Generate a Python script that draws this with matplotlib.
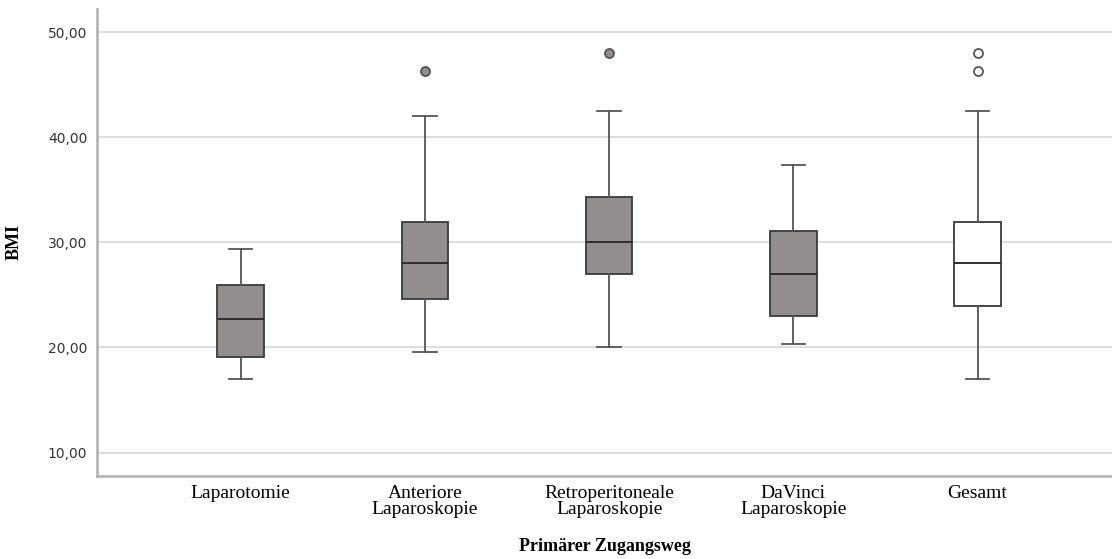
import matplotlib
matplotlib.use("Agg")
import matplotlib.pyplot as plt
from matplotlib.ticker import FuncFormatter

groups = ["Laparotomie", "Anteriore\nLaparoskopie", "Retroperitoneale\nLaparoskopie",
          "DaVinci\nLaparoskopie", "Gesamt"]
whis_low = [17.0, 19.6, 20.0, 20.3, 17.0]
q1 = [19.05, 24.6, 27.0, 23.0, 23.9]
median = [22.7, 28.0, 30.05, 27.0, 28.0]
q3 = [25.9, 31.9, 34.35, 31.1, 31.9]
whis_high = [29.4, 42.0, 42.5, 37.4, 42.5]
outliers = [[], [46.3], [48.0], [], [46.3, 48.0]]
fills = ["#928e8d", "#928e8d", "#928e8d", "#928e8d", "#ffffff"]

fig = plt.figure(figsize=(11.12, 5.59), dpi=100)
ax = fig.add_axes([0.0872, 0.149, 0.9128, 0.835])

stats = []
for i, g in enumerate(groups):
    stats.append(dict(label=g, whislo=whis_low[i], q1=q1[i], med=median[i],
                      q3=q3[i], whishi=whis_high[i], fliers=outliers[i]))

pos = list(range(1, len(groups) + 1))
for i in range(len(groups)):
    ax.bxp([stats[i]], positions=[pos[i]], widths=0.253, patch_artist=True,
           showfliers=True,
           boxprops=dict(facecolor=fills[i], edgecolor="#3a3a3a", linewidth=1.3),
           medianprops=dict(color="#2e2e2e", linewidth=1.4),
           whiskerprops=dict(color="#555555", linewidth=1.3),
           capprops=dict(color="#555555", linewidth=1.3),
           capwidths=0.127,
           flierprops=dict(marker="o", markersize=6.5, markerfacecolor=fills[i],
                           markeredgecolor="#555555", markeredgewidth=1.3),
           zorder=3)

ax.set_xlim(0.22, 5.73)
ax.set_ylim(7.8, 52.2)
ax.set_yticks([10, 20, 30, 40, 50])
ax.yaxis.set_major_formatter(FuncFormatter(lambda v, p: f"{v:.2f}".replace(".", ",")))
ax.set_xticks(pos)
ax.set_xticklabels(groups, fontfamily="Liberation Serif", fontsize=14, linespacing=0.9)
ax.tick_params(axis="x", length=0, pad=7)
ax.tick_params(axis="y", length=0, pad=7, labelsize=10, labelcolor="#333333")

ax.grid(axis="y", color="#d4d4d4", linewidth=1.1, zorder=0)
ax.set_axisbelow(True)
for s in ["top", "right"]:
    ax.spines[s].set_visible(False)
for s in ["left", "bottom"]:
    ax.spines[s].set_color("#b0b0b0")
    ax.spines[s].set_linewidth(1.8)

ax.set_ylabel("BMI", fontfamily="Liberation Serif", fontweight="bold", fontsize=13, labelpad=18)
ax.set_xlabel("Primärer Zugangsweg", fontfamily="Liberation Serif", fontweight="bold",
              fontsize=13, labelpad=14)

fig.savefig("out.png", dpi=100)
